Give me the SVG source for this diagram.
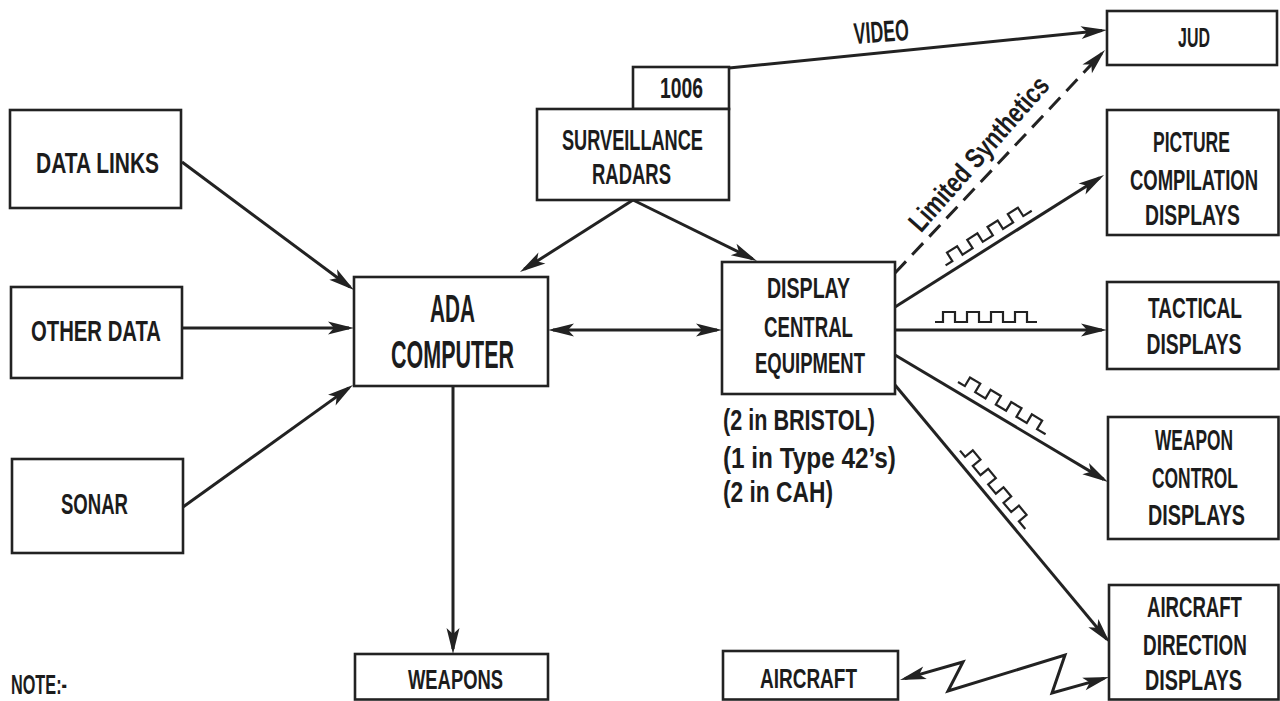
<svg xmlns="http://www.w3.org/2000/svg" xmlns:xlink="http://www.w3.org/1999/xlink" width="1280" height="701" viewBox="0 0 1280 701">
  <style>
    .box { fill: #ffffff; stroke: #222222; stroke-width: 2.6; }
    .lbl { font-family: "Liberation Sans", Arial, sans-serif; font-weight: bold; font-size: 30px; fill: #1c1c1c; text-anchor: middle; }
    .big { font-size: 38px; }
    .sm { font-size: 28px; }
    .note { text-anchor: start; }
    .conn { fill: none; stroke: #222222; stroke-width: 3; stroke-linejoin: miter; }
    .dash { stroke-dasharray: 16 9; }
    .wave { fill: none; stroke: #222222; stroke-width: 2.2; stroke-linejoin: miter; }
  </style>
  <defs>
    <marker id="ah" markerUnits="userSpaceOnUse" markerWidth="28" markerHeight="16" refX="21" refY="7" orient="auto-start-reverse" overflow="visible">
      <path d="M26,7 L0,0.5 L6,7 L0,13.5 Z" fill="#222222"/>
    </marker>
    <!-- square pulse train, drawn along +x with pulses toward -y -->
    <path id="pulses" d="M0,0 h8 v-10 h12 v10 h12 v-10 h12 v10 h12 v-10 h12 v10 h12 v-10 h12 v10 h10"/>
  </defs>

  <rect width="1280" height="701" fill="#ffffff"/>

  <!-- labels use a 0.62 horizontal squeeze about their anchor x to get the condensed lettering -->

  <!-- connectors -->
  <g id="connectors">
    <line class="conn" x1="182" y1="162" x2="350" y2="287" marker-end="url(#ah)"/>
    <line class="conn" x1="182" y1="328" x2="349" y2="328" marker-end="url(#ah)"/>
    <line class="conn" x1="183" y1="507" x2="348.9" y2="387.9" marker-end="url(#ah)"/>
    <line class="conn" x1="633" y1="200" x2="524.2" y2="269.3" marker-end="url(#ah)"/>
    <line class="conn" x1="633" y1="200" x2="752.5" y2="258.8" marker-end="url(#ah)"/>
    <line class="conn" x1="553" y1="330" x2="717" y2="330" marker-start="url(#ah)" marker-end="url(#ah)"/>
    <line class="conn" x1="453" y1="386" x2="453" y2="649" marker-end="url(#ah)"/>
    <line class="conn" x1="729" y1="68" x2="1102" y2="30.5" marker-end="url(#ah)"/>
    <line class="conn dash" x1="895" y1="273" x2="1101.6" y2="53.6" marker-end="url(#ah)"/>
    <line class="conn" x1="895" y1="307" x2="1099.8" y2="177.7" marker-end="url(#ah)"/>
    <line class="conn" x1="895" y1="330" x2="1102" y2="330" marker-end="url(#ah)"/>
    <line class="conn" x1="895" y1="355" x2="1103.7" y2="479.4" marker-end="url(#ah)"/>
    <line class="conn" x1="895" y1="385" x2="1106.8" y2="639.2" marker-end="url(#ah)"/>
    <!-- radio link between aircraft and direction displays -->
    <polyline class="conn" points="904.8,678.6 963,662 948,691 1065,655 1052,693 1104.2,678.4" marker-start="url(#ah)" marker-end="url(#ah)"/>

    <!-- pulse symbols beside the display feeds -->
    <use xlink:href="#pulses" class="wave" transform="translate(945.6,265.4) rotate(-32.4)"/>
    <use xlink:href="#pulses" class="wave" transform="translate(935,322)"/>
    <use xlink:href="#pulses" class="wave" transform="translate(958,382) rotate(30.8)"/>
    <use xlink:href="#pulses" class="wave" transform="translate(960,450.6) rotate(50.2)"/>

    <text class="lbl" x="882" y="42" textLength="88.7" lengthAdjust="spacingAndGlyphs" transform="rotate(-4 882 42) matrix(0.62 0 0 1 335.16 0)">VIDEO</text>
    <text class="lbl sm" x="986" y="160" textLength="316.1" lengthAdjust="spacingAndGlyphs" transform="rotate(-48.5 986 160) matrix(0.62 0 0 1 374.68 0)">Limited  Synthetics</text>
  </g>

  <g id="data-links">
    <rect class="box" x="10" y="110" width="171" height="98"/>
    <text class="lbl" x="97.5" y="173" textLength="198.4" lengthAdjust="spacingAndGlyphs" transform="matrix(0.62 0 0 1 37.05 0)">DATA  LINKS</text>
  </g>
  <g id="other-data">
    <rect class="box" x="11" y="287" width="171" height="91"/>
    <text class="lbl" x="96" y="341" textLength="209.7" lengthAdjust="spacingAndGlyphs" transform="matrix(0.62 0 0 1 36.48 0)">OTHER  DATA</text>
  </g>
  <g id="sonar">
    <rect class="box" x="12" y="459" width="171" height="94"/>
    <text class="lbl" x="94.5" y="514" textLength="108.1" lengthAdjust="spacingAndGlyphs" transform="matrix(0.62 0 0 1 35.91 0)">SONAR</text>
  </g>
  <g id="ada-computer">
    <rect class="box" x="354" y="277" width="194" height="109"/>
    <text class="lbl big" x="452.5" y="322" textLength="72.6" lengthAdjust="spacingAndGlyphs" transform="matrix(0.62 0 0 1 171.95 0)">ADA</text>
    <text class="lbl big" x="452.5" y="368" textLength="198.4" lengthAdjust="spacingAndGlyphs" transform="matrix(0.62 0 0 1 171.95 0)">COMPUTER</text>
  </g>
  <g id="radar-1006">
    <rect class="box" x="633" y="67" width="96" height="42"/>
    <text class="lbl" x="681.5" y="98" textLength="69.4" lengthAdjust="spacingAndGlyphs" transform="matrix(0.62 0 0 1 258.97 0)">1006</text>
  </g>
  <g id="surveillance-radars">
    <rect class="box" x="537" y="109" width="192" height="91"/>
    <text class="lbl" x="632.5" y="150" textLength="227.4" lengthAdjust="spacingAndGlyphs" transform="matrix(0.62 0 0 1 240.35 0)">SURVEILLANCE</text>
    <text class="lbl" x="631.5" y="184" textLength="127.4" lengthAdjust="spacingAndGlyphs" transform="matrix(0.62 0 0 1 239.97 0)">RADARS</text>
  </g>
  <g id="display-central-equipment">
    <rect class="box" x="722" y="262" width="173" height="132"/>
    <text class="lbl" x="808.5" y="298" textLength="133.9" lengthAdjust="spacingAndGlyphs" transform="matrix(0.62 0 0 1 307.23 0)">DISPLAY</text>
    <text class="lbl" x="808.5" y="337" textLength="143.5" lengthAdjust="spacingAndGlyphs" transform="matrix(0.62 0 0 1 307.23 0)">CENTRAL</text>
    <text class="lbl" x="810" y="373" textLength="177.4" lengthAdjust="spacingAndGlyphs" transform="matrix(0.62 0 0 1 307.8 0)">EQUIPMENT</text>
    <text class="lbl note" x="723" y="430" textLength="245.2" lengthAdjust="spacingAndGlyphs" transform="matrix(0.62 0 0 1 274.74 0)">(2  in  BRISTOL)</text>
    <text class="lbl note" x="723" y="468" textLength="279" lengthAdjust="spacingAndGlyphs" transform="matrix(0.62 0 0 1 274.74 0)">(1  in  Type  42’s)</text>
    <text class="lbl note" x="723" y="502" textLength="177.4" lengthAdjust="spacingAndGlyphs" transform="matrix(0.62 0 0 1 274.74 0)">(2  in  CAH)</text>
  </g>
  <g id="jud">
    <rect class="box" x="1107" y="11" width="170" height="54"/>
    <text class="lbl sm" x="1194" y="47" textLength="51.6" lengthAdjust="spacingAndGlyphs" transform="matrix(0.62 0 0 1 453.72 0)">JUD</text>
  </g>
  <g id="picture-compilation-displays">
    <rect class="box" x="1107" y="110" width="171.5" height="125"/>
    <text class="lbl" x="1191.5" y="152" textLength="124.2" lengthAdjust="spacingAndGlyphs" transform="matrix(0.62 0 0 1 452.77 0)">PICTURE</text>
    <text class="lbl" x="1194" y="190" textLength="206.5" lengthAdjust="spacingAndGlyphs" transform="matrix(0.62 0 0 1 453.72 0)">COMPILATION</text>
    <text class="lbl" x="1192.5" y="225" textLength="153.2" lengthAdjust="spacingAndGlyphs" transform="matrix(0.62 0 0 1 453.15 0)">DISPLAYS</text>
  </g>
  <g id="tactical-displays">
    <rect class="box" x="1107" y="282" width="171.5" height="87"/>
    <text class="lbl" x="1195" y="318" textLength="151.6" lengthAdjust="spacingAndGlyphs" transform="matrix(0.62 0 0 1 454.1 0)">TACTICAL</text>
    <text class="lbl" x="1194" y="354" textLength="153.2" lengthAdjust="spacingAndGlyphs" transform="matrix(0.62 0 0 1 453.72 0)">DISPLAYS</text>
  </g>
  <g id="weapon-control-displays">
    <rect class="box" x="1108" y="417" width="170.5" height="122"/>
    <text class="lbl" x="1194" y="450" textLength="125.8" lengthAdjust="spacingAndGlyphs" transform="matrix(0.62 0 0 1 453.72 0)">WEAPON</text>
    <text class="lbl" x="1195" y="488" textLength="138.7" lengthAdjust="spacingAndGlyphs" transform="matrix(0.62 0 0 1 454.1 0)">CONTROL</text>
    <text class="lbl" x="1196.5" y="525" textLength="156.5" lengthAdjust="spacingAndGlyphs" transform="matrix(0.62 0 0 1 454.67 0)">DISPLAYS</text>
  </g>
  <g id="aircraft-direction-displays">
    <rect class="box" x="1109" y="585" width="169.5" height="114.5"/>
    <text class="lbl" x="1194.5" y="617" textLength="153.2" lengthAdjust="spacingAndGlyphs" transform="matrix(0.62 0 0 1 453.91 0)">AIRCRAFT</text>
    <text class="lbl" x="1195" y="655" textLength="167.7" lengthAdjust="spacingAndGlyphs" transform="matrix(0.62 0 0 1 454.1 0)">DIRECTION</text>
    <text class="lbl" x="1193.5" y="690" textLength="156.5" lengthAdjust="spacingAndGlyphs" transform="matrix(0.62 0 0 1 453.53 0)">DISPLAYS</text>
  </g>
  <g id="weapons">
    <rect class="box" x="355" y="654" width="193" height="45.5"/>
    <text class="lbl sm" x="455.5" y="689" textLength="153.2" lengthAdjust="spacingAndGlyphs" transform="matrix(0.62 0 0 1 173.09 0)">WEAPONS</text>
  </g>
  <g id="aircraft">
    <rect class="box" x="723" y="651" width="175" height="48.5"/>
    <text class="lbl sm" x="808.5" y="688" textLength="156.5" lengthAdjust="spacingAndGlyphs" transform="matrix(0.62 0 0 1 307.23 0)">AIRCRAFT</text>
  </g>

  <text class="lbl sm note" x="11" y="694" textLength="90.3" lengthAdjust="spacingAndGlyphs" transform="matrix(0.62 0 0 1 4.18 0)">NOTE:-</text>
</svg>
